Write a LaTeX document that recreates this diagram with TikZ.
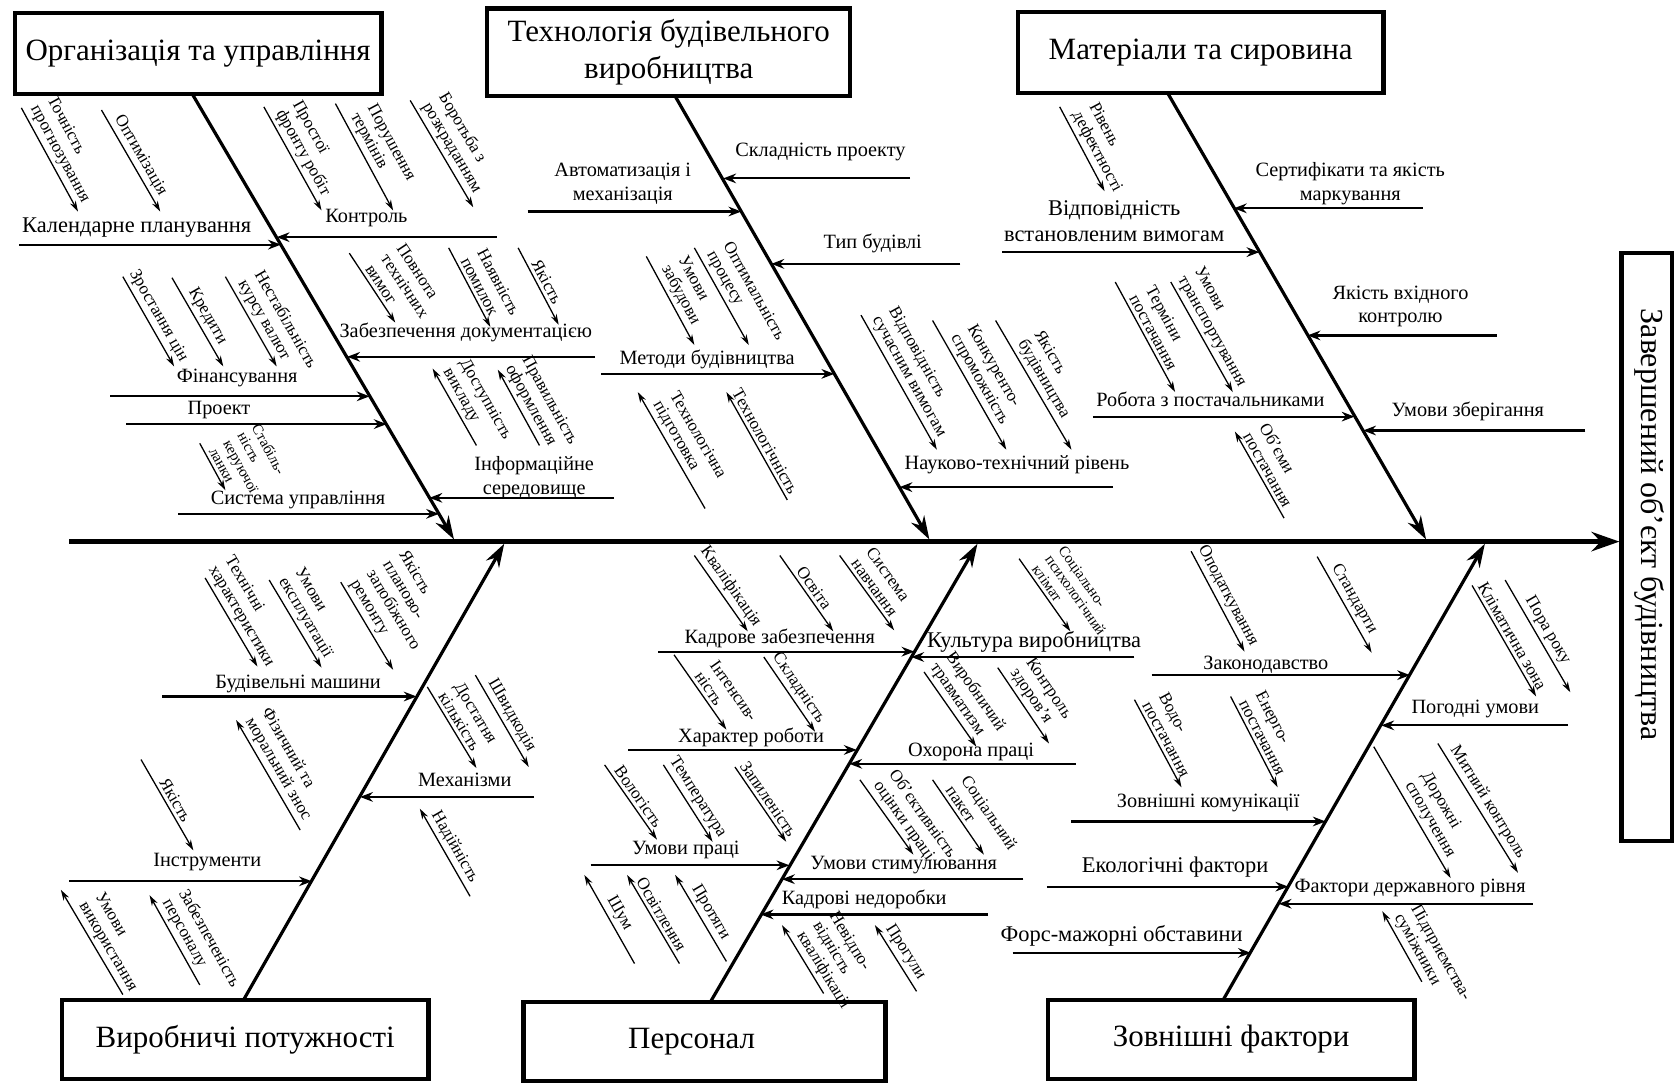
\documentclass[tikz,border=0pt]{standalone}
\usepackage{fontspec}
\setmainfont{Liberation Serif}
\usetikzlibrary{arrows.meta}
\tikzset{
  headbox/.style={draw,line width=2pt,inner sep=0pt,align=center,
    font=\fontsize{14.5}{17}\selectfont},
  spine/.style={line width=2.2pt,-{Stealth[open,length=13pt,width=9pt]}},
  bone/.style={line width=1.5pt,-{Stealth[open,length=11pt,width=7pt]}},
  cause/.style={line width=1pt,-{Stealth[open,length=6pt,width=4.5pt]}},
  sub/.style={line width=0.6pt,-{Stealth[length=5pt,width=3pt]}},
  lbl/.style={inner sep=1pt,align=center,font=\fontsize{9.5}{11}\selectfont},
  lblbig/.style={inner sep=1pt,align=center,font=\fontsize{10.5}{12.5}\selectfont},
  rot/.style={sloped,above,inner sep=1.5pt,align=left,font=\fontsize{8}{8.8}\selectfont},
  rotsm/.style={rot,font=\fontsize{7}{7.6}\selectfont}
}

\begin{document}
\begin{tikzpicture}[x=0.5pt,y=-0.5pt]
\useasboundingbox (0,0) rectangle (1568,1014);

\node[headbox,minimum width=171.5pt,minimum height=38pt] (org) at (185.5,50) {Організація та управління};
\node[headbox,minimum width=170pt,minimum height=41pt] (tech) at (626,49) {Технологія будівельного\\виробництва};
\node[headbox,minimum width=171pt,minimum height=38pt] (mat) at (1124,49) {Матеріали та сировина};
\node[headbox,minimum width=171.5pt,minimum height=37pt] (prod) at (229.5,973) {Виробничі потужності};
\node[headbox,minimum width=169.5pt,minimum height=37pt] (pers) at (659.5,975) {Персонал\hspace*{12pt}};
\node[headbox,minimum width=171.5pt,minimum height=37pt] (ext) at (1152.5,973) {Зовнішні фактори};
\node[draw,line width=2pt,minimum width=23.5pt,minimum height=275pt] (res) at (1541.5,512) {};
\node[rotate=-90,font=\fontsize{15}{18}\selectfont] (restxt) at (1544,491) {Завершений об’єкт будівництва};

\coordinate (spS) at (65,507);
\draw[spine] (spS) -- (spS -| res.west);

\coordinate (orgA) at (180,88);   \coordinate (orgB) at (425,505);
\coordinate (techA) at (632,90);  \coordinate (techB) at (870,505);
\coordinate (matA) at (1093,87);  \coordinate (matB) at (1335,505);
\coordinate (prodA) at (228,936); \coordinate (prodB) at (472,509);
\coordinate (persA) at (665,938); \coordinate (persB) at (915,509);
\coordinate (extA) at (1145,936); \coordinate (extB) at (1390,509);
\draw[bone] (orgA) -- (orgB);
\draw[bone] (techA) -- (techB);
\draw[bone] (matA) -- (matB);
\draw[bone] (prodA) -- (prodB);
\draw[bone] (persA) -- (persB);
\draw[bone] (extA) -- (extB);

% Організація та управління
\coordinate (kalS) at (18,229);   \coordinate (kalE) at (263,229);
\coordinate (kontrS) at (465,222); \coordinate (kontrE) at (259,222);
\coordinate (zdocS) at (557,334); \coordinate (zdocE) at (325,334);
\coordinate (finS) at (103,371);  \coordinate (finE) at (346,371);
\coordinate (proS) at (118,397);  \coordinate (proE) at (362,397);
\coordinate (infS) at (575,466);  \coordinate (infE) at (402,466);
\coordinate (sysS) at (167,481);  \coordinate (sysE) at (411,481);
\draw[cause] (kalS) -- (kalE);
\draw[cause] (kontrS) -- (kontrE);
\draw[cause] (zdocS) -- (zdocE);
\draw[cause] (finS) -- (finE);
\draw[cause] (proS) -- (proE);
\draw[cause] (infS) -- (infE);
\draw[cause] (sysS) -- (sysE);
\node[lblbig] (kal) at (128,213) {Календарне планування};
\node[lbl] (kontr) at (343,204) {Контроль};
\node[lbl] (zdoc) at (436,311) {Забезпечення документацією};
\node[lbl] (fin) at (222,354) {Фінансування};
\node[lbl] (pro) at (205,384) {Проект};
\node[lbl] (inf) at (500,447) {Інформаційне\\середовище};
\node[lbl] (sys) at (279,468) {Система управління};

\coordinate (tpA) at (20,101);  \coordinate (tpB) at (73,198);
\coordinate (opA) at (95,103);  \coordinate (opB) at (150,198);
\coordinate (prA) at (247,100); \coordinate (prB) at (301,197);
\coordinate (ptA) at (314,97);  \coordinate (ptB) at (368,197);
\coordinate (brA) at (384,94);  \coordinate (brB) at (443,194);
\coordinate (pvA) at (327,237); \coordinate (pvB) at (370,302);
\coordinate (npA) at (420,232); \coordinate (npB) at (459,306);
\coordinate (ydA) at (485,232); \coordinate (ydB) at (523,304);
\coordinate (dvA) at (446,417); \coordinate (dvB) at (405,345);
\coordinate (poA) at (505,417); \coordinate (poB) at (466,346);
\coordinate (zcA) at (115,259); \coordinate (zcB) at (163,343);
\coordinate (krA) at (161,260); \coordinate (krB) at (209,343);
\coordinate (nkA) at (211,259); \coordinate (nkB) at (259,343);
\coordinate (skA) at (187,415); \coordinate (skB) at (211,459);
\draw[sub] (tpA) -- node[rot] (tp) {Точність\\прогнозування} (tpB);
\draw[sub] (opA) -- node[rot] (op) {Оптимізація} (opB);
\draw[sub] (prA) -- node[rot] (pr) {Простої\\фронту робіт} (prB);
\draw[sub] (ptA) -- node[rot] (pt) {Порушення\\термінів} (ptB);
\draw[sub] (brA) -- node[rot] (br) {Боротьба з\\розкраданням} (brB);
\draw[sub] (pvA) -- node[rot,pos=0.7] (pv) {Повнота\\технічних\\вимог} (pvB);
\draw[sub] (npA) -- node[rot,pos=0.6] (np) {Наявність\\помилок} (npB);
\draw[sub] (ydA) -- node[rot] (yd) {Якість} (ydB);
\draw[sub] (dvA) -- node[rot,pos=0.4] (dv) {Доступність\\викладу} (dvB);
\draw[sub] (poA) -- node[rot,pos=0.4] (po) {Правильність\\оформлення} (poB);
\draw[sub] (zcA) -- node[rot] (zc) {Зростання цін} (zcB);
\draw[sub] (krA) -- node[rot] (kr) {Кредити} (krB);
\draw[sub] (nkA) -- node[rot,pos=0.65] (nk) {Нестабільність\\курсу валют} (nkB);
\draw[sub] (skA) -- node[rotsm,pos=0.75] (sk) {Стабіль-\\ність\\керуючої\\ланки} (skB);

% Технологія будівельного виробництва
\coordinate (avtS) at (494,198);  \coordinate (avtE) at (694,198);
\coordinate (sklS) at (852,167);  \coordinate (sklE) at (677,167);
\coordinate (typS) at (899,247);  \coordinate (typE) at (722,247);
\coordinate (metS) at (563,350);  \coordinate (metE) at (781,350);
\coordinate (nauS) at (1042,456); \coordinate (nauE) at (842,456);
\draw[cause] (avtS) -- (avtE);
\draw[cause] (sklS) -- (sklE);
\draw[cause] (typS) -- (typE);
\draw[cause] (metS) -- (metE);
\draw[cause] (nauS) -- (nauE);
\node[lbl] (avt) at (583,172) {Автоматизація і\\механізація};
\node[lbl] (skl) at (768,142) {Складність проекту};
\node[lbl] (typ) at (817,228) {Тип будівлі};
\node[lbl] (met) at (662,336) {Методи будівництва};
\node[lbl] (nau) at (952,435) {Науково-технічний рівень};

\coordinate (uzA) at (605,240); \coordinate (uzB) at (650,323);
\coordinate (oprA) at (650,232); \coordinate (oprB) at (701,323);
\coordinate (tpdA) at (660,476); \coordinate (tpdB) at (597,367);
\coordinate (tchA) at (737,468); \coordinate (tchB) at (680,367);
\coordinate (vsA) at (806,295); \coordinate (vsB) at (877,421);
\coordinate (ksA) at (873,300); \coordinate (ksB) at (942,421);
\coordinate (ybA) at (932,300); \coordinate (ybB) at (1003,421);
\draw[sub] (uzA) -- node[rot] (uz) {Умови\\забудови} (uzB);
\draw[sub] (oprA) -- node[rot,pos=0.6] (opr) {Оптимальність\\процесу} (oprB);
\draw[sub] (tpdA) -- node[rot] (tpd) {Технологічна\\підготовка} (tpdB);
\draw[sub] (tchA) -- node[rot] (tch) {Технологічність} (tchB);
\draw[sub] (vsA) -- node[rot] (vs) {Відповідність\\сучасним вимогам} (vsB);
\draw[sub] (ksA) -- node[rot] (ks) {Конкуренто-\\спроможність} (ksB);
\draw[sub] (ybA) -- node[rot] (yb) {Якість\\будівництва} (ybB);

% Матеріали та сировина
\coordinate (vidS) at (938,236);  \coordinate (vidE) at (1179,236);
\coordinate (serS) at (1332,195); \coordinate (serE) at (1155,195);
\coordinate (vkhS) at (1401,314); \coordinate (vkhE) at (1224,314);
\coordinate (robS) at (1023,390); \coordinate (robE) at (1268,390);
\coordinate (zbeS) at (1484,403); \coordinate (zbeE) at (1276,403);
\draw[cause] (vidS) -- (vidE);
\draw[cause] (serS) -- (serE);
\draw[cause] (vkhS) -- (vkhE);
\draw[cause] (robS) -- (robE);
\draw[cause] (zbeS) -- (zbeE);
\node[lblbig] (vid) at (1043,207) {Відповідність\\встановленим вимогам};
\node[lbl] (ser) at (1264,172) {Сертифікати та якість\\маркування};
\node[lbl] (vkh) at (1311,287) {Якість вхідного\\контролю};
\node[lbl] (rob) at (1133,374) {Робота з постачальниками};
\node[lbl] (zbe) at (1374,385) {Умови зберігання};

\coordinate (rdA) at (992,100);  \coordinate (rdB) at (1034,179);
\coordinate (tmA) at (1044,264); \coordinate (tmB) at (1100,367);
\coordinate (utA) at (1096,264); \coordinate (utB) at (1154,367);
\coordinate (obA) at (1202,485); \coordinate (obB) at (1156,404);
\draw[sub] (rdA) -- node[rot,pos=0.6] (rd) {Рівень\\дефектності} (rdB);
\draw[sub] (tmA) -- node[rot] (tm) {Терміни\\постачання} (tmB);
\draw[sub] (utA) -- node[rot] (ut) {Умови\\транспортування} (utB);
\draw[sub] (obA) -- node[rot] (ob) {Об’єми\\постачання} (obB);

% Виробничі потужності
\coordinate (mashS) at (152,652); \coordinate (mashE) at (390,652);
\coordinate (mekhS) at (500,746); \coordinate (mekhE) at (337,746);
\coordinate (insS) at (65,825);   \coordinate (insE) at (292,825);
\draw[cause] (mashS) -- (mashE);
\draw[cause] (mekhS) -- (mekhE);
\draw[cause] (insS) -- (insE);
\node[lbl] (mash) at (279,640) {Будівельні машини};
\node[lbl] (mekh) at (435,730) {Механізми};
\node[lbl] (ins) at (194,807) {Інструменти};

\coordinate (thA) at (192,541); \coordinate (thB) at (241,624);
\coordinate (ueA) at (252,543); \coordinate (ueB) at (301,625);
\coordinate (yrA) at (319,545); \coordinate (yrB) at (368,627);
\coordinate (fzA) at (281,777); \coordinate (fzB) at (221,674);
\coordinate (yiA) at (132,711); \coordinate (yiB) at (181,796);
\coordinate (uvA) at (115,931); \coordinate (uvB) at (57,833);
\coordinate (zpA) at (187,922); \coordinate (zpB) at (140,838);
\coordinate (dkA) at (400,643); \coordinate (dkB) at (446,719);
\coordinate (shA) at (445,632); \coordinate (shB) at (495,718);
\coordinate (ndA) at (440,839); \coordinate (ndB) at (393,757);
\draw[sub] (thA) -- node[rot] (th) {Технічні\\характеристики} (thB);
\draw[sub] (ueA) -- node[rot] (ue) {Умови\\експлуатації} (ueB);
\draw[sub] (yrA) -- node[rot] (yr) {Якість\\планово-\\запобіжного\\ремонту} (yrB);
\draw[sub] (fzA) -- node[rot] (fz) {Фізичний та\\моральний знос} (fzB);
\draw[sub] (yiA) -- node[rot] (yi) {Якість} (yiB);
\draw[sub] (uvA) -- node[rot,pos=0.4] (uv) {Умови\\використання} (uvB);
\draw[sub] (zpA) -- node[rot,pos=0.35] (zp) {Забезпеченість\\персоналу} (zpB);
\draw[sub] (dkA) -- node[rot] (dk) {Достатня\\кількість} (dkB);
\draw[sub] (shA) -- node[rot] (sh) {Швидкодія} (shB);
\draw[sub] (ndA) -- node[rot] (nd) {Надійність} (ndB);

% Персонал
\coordinate (kadS) at (616,610);  \coordinate (kadE) at (856,610);
\coordinate (kulS) at (1062,615); \coordinate (kulE) at (853,615);
\coordinate (kharS) at (588,702); \coordinate (kharE) at (802,702);
\coordinate (okhS) at (1007,715); \coordinate (okhE) at (795,715);
\coordinate (upS) at (553,810);   \coordinate (upE) at (739,810);
\coordinate (ustS) at (958,823);  \coordinate (ustE) at (732,823);
\coordinate (knS) at (925,856);   \coordinate (knE) at (712,856);
\draw[cause] (kadS) -- (kadE);
\draw[cause] (kulS) -- (kulE);
\draw[cause] (kharS) -- (kharE);
\draw[cause] (okhS) -- (okhE);
\draw[cause] (upS) -- (upE);
\draw[cause] (ustS) -- (ustE);
\draw[cause] (knS) -- (knE);
\node[lbl] (kad) at (730,598) {Кадрове забезпечення};
\node[lblbig] (kul) at (968,601) {Культура виробництва};
\node[lbl] (khar) at (703,690) {Характер роботи};
\node[lbl] (okh) at (909,704) {Охорона праці};
\node[lbl] (up) at (642,796) {Умови праці};
\node[lbl] (ust) at (846,810) {Умови стимулювання};
\node[lbl] (kn) at (809,842) {Кадрові недоробки};

\coordinate (kvA) at (650,520); \coordinate (kvB) at (700,591);
\coordinate (osA) at (730,520); \coordinate (osB) at (780,591);
\coordinate (snA) at (786,520); \coordinate (snB) at (837,590);
\coordinate (inA) at (631,613); \coordinate (inB) at (680,683);
\coordinate (sdA) at (715,615); \coordinate (sdB) at (763,685);
\coordinate (vlA) at (566,716); \coordinate (vlB) at (615,786);
\coordinate (teA) at (621,716); \coordinate (teB) at (667,788);
\coordinate (zlA) at (688,718); \coordinate (zlB) at (736,788);
\coordinate (smA) at (594,902); \coordinate (smB) at (547,819);
\coordinate (svA) at (636,902); \coordinate (svB) at (587,819);
\coordinate (ptgA) at (680,900); \coordinate (ptgB) at (632,819);
\coordinate (vtA) at (865,629); \coordinate (vtB) at (914,699);
\coordinate (kzA) at (934,625); \coordinate (kzB) at (982,696);
\coordinate (spA) at (954,523); \coordinate (spB) at (1002,591);
\coordinate (oaA) at (805,730); \coordinate (oaB) at (855,800);
\coordinate (pkA) at (873,730); \coordinate (pkB) at (921,800);
\coordinate (nvA) at (771,930); \coordinate (nvB) at (732,866);
\coordinate (pgA) at (858,928); \coordinate (pgB) at (819,866);
\draw[sub] (kvA) -- node[rot] (kv) {Кваліфікація} (kvB);
\draw[sub] (osA) -- node[rot] (os) {Освіта} (osB);
\draw[sub] (snA) -- node[rot] (sn) {Система\\навчання} (snB);
\draw[sub] (inA) -- node[rot,pos=0.7] (in) {Інтенсив-\\ність} (inB);
\draw[sub] (sdA) -- node[rot] (sd) {Складність} (sdB);
\draw[sub] (vlA) -- node[rot] (vl) {Вологість} (vlB);
\draw[sub] (teA) -- node[rot] (te) {Температура} (teB);
\draw[sub] (zlA) -- node[rot] (zl) {Запиленість} (zlB);
\draw[sub] (smA) -- node[rot] (sm) {Шум} (smB);
\draw[sub] (svA) -- node[rot] (sv) {Освітлення} (svB);
\draw[sub] (ptgA) -- node[rot] (ptg) {Протяги} (ptgB);
\draw[sub] (vtA) -- node[rot] (vt) {Виробничий\\травматизм} (vtB);
\draw[sub] (kzA) -- node[rot] (kz) {Контроль\\здоров’я} (kzB);
\draw[sub] (spA) -- node[rotsm,pos=0.7] (sp) {Соціально-\\психологічний\\клімат} (spB);
\draw[sub] (oaA) -- node[rot,pos=0.7] (oa) {Об’єктивність\\оцінки праці} (oaB);
\draw[sub] (pkA) -- node[rot,pos=0.65] (pk) {Соціальний\\пакет} (pkB);
\draw[sub] (nvA) -- node[rot,pos=0.25] (nv) {Невідпо-\\відність\\кваліфікації} (nvB);
\draw[sub] (pgA) -- node[rot] (pg) {Прогули} (pgB);

% Зовнішні фактори
\coordinate (zakS) at (1078,632); \coordinate (zakE) at (1320,632);
\coordinate (pogS) at (1468,679); \coordinate (pogE) at (1293,679);
\coordinate (komS) at (1003,769); \coordinate (komE) at (1241,769);
\coordinate (ekoS) at (980,830);  \coordinate (ekoE) at (1206,830);
\coordinate (derS) at (1435,846); \coordinate (derE) at (1197,846);
\coordinate (forS) at (948,892);  \coordinate (forE) at (1171,892);
\draw[cause] (zakS) -- (zakE);
\draw[cause] (pogS) -- (pogE);
\draw[cause] (komS) -- (komE);
\draw[cause] (ekoS) -- (ekoE);
\draw[cause] (derS) -- (derE);
\draw[cause] (forS) -- (forE);
\node[lbl] (zak) at (1185,622) {Законодавство};
\node[lbl] (pog) at (1381,664) {Погодні умови};
\node[lbl] (kom) at (1131,752) {Зовнішні комунікації};
\node[lblbig] (eko) at (1100,812) {Екологічні фактори};
\node[lbl] (der) at (1320,831) {Фактори державного рівня};
\node[lblbig] (for) at (1050,876) {Форс-мажорні обставини};

\coordinate (odA) at (1115,516); \coordinate (odB) at (1165,610);
\coordinate (stA) at (1233,521); \coordinate (stB) at (1284,611);
\coordinate (vdA) at (1062,655); \coordinate (vdB) at (1106,737);
\coordinate (enA) at (1152,652); \coordinate (enB) at (1196,737);
\coordinate (klA) at (1378,548); \coordinate (klB) at (1438,652);
\coordinate (prkA) at (1409,543); \coordinate (prkB) at (1470,648);
\coordinate (dsA) at (1286,699); \coordinate (dsB) at (1358,822);
\coordinate (mkA) at (1346,696); \coordinate (mkB) at (1421,817);
\coordinate (psA) at (1331,919); \coordinate (psB) at (1294,853);
\draw[sub] (odA) -- node[rot] (od) {Оподаткування} (odB);
\draw[sub] (stA) -- node[rot] (st) {Стандарти} (stB);
\draw[sub] (vdA) -- node[rot] (vd) {Водо-\\постачання} (vdB);
\draw[sub] (enA) -- node[rot] (en) {Енерго-\\постачання} (enB);
\draw[sub] (klA) -- node[rot] (kl) {Кліматична зона} (klB);
\draw[sub] (prkA) -- node[rot] (prk) {Пора року} (prkB);
\draw[sub] (dsA) -- node[rot,pos=0.6] (ds) {Дорожні\\сполучення} (dsB);
\draw[sub] (mkA) -- node[rot] (mk) {Митний контроль} (mkB);
\draw[sub] (psA) -- node[rot,pos=0.2] (ps) {Підприємства-\\суміжники} (psB);
\end{tikzpicture}
\end{document}
